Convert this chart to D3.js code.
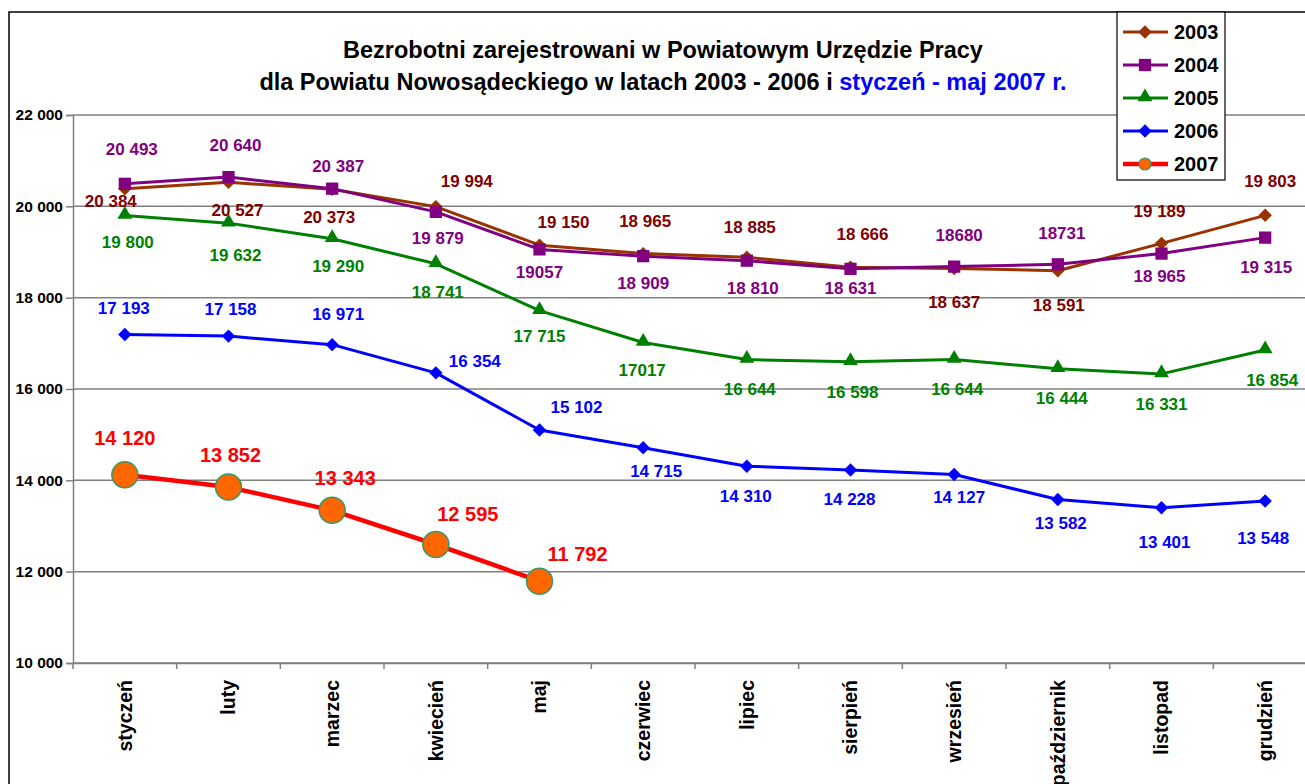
<!DOCTYPE html>
<html>
<head>
<meta charset="utf-8">
<script src="https://cdn.jsdelivr.net/npm/d3@7"></script>
<style>
  html, body { margin: 0; padding: 0; background: #fff; }
  svg { display: block; font-family: "Liberation Sans", Arial, sans-serif; }
</style>
</head>
<body>
<svg id="chart" width="1305" height="784"></svg>
<script>
// ---------- DATA ----------
const months = ["styczeń","luty","marzec","kwiecień","maj","czerwiec","lipiec","sierpień","wrzesień","październik","listopad","grudzień"];
const yTicks = [10000, 12000, 14000, 16000, 18000, 20000, 22000];
const years = ["2003","2004","2005","2006","2007"];
const v2003 = [20384, 20527, 20373, 19994, 19150, 18965, 18885, 18666, 18637, 18591, 19189, 19803];
const v2004 = [20493, 20640, 20387, 19879, 19057, 18909, 18810, 18631, 18680, 18731, 18965, 19315];
const v2005 = [19800, 19632, 19290, 18741, 17715, 17017, 16644, 16598, 16644, 16444, 16331, 16854];
const v2006 = [17193, 17158, 16971, 16354, 15102, 14715, 14310, 14228, 14127, 13582, 13401, 13548];
const v2007 = [14120, 13852, 13343, 12595, 11792];
// labels printed without thousands space in the original
const noSpace = { "2004": [4, 8, 9], "2005": [5] };
const titleLine1 = "Bezrobotni zarejestrowani w Powiatowym Urzędzie Pracy";
const titleLine2a = "dla Powiatu Nowosądeckiego w latach 2003 - 2006 i ";
const titleLine2b = "styczeń - maj 2007 r.";

// ---------- LAYOUT / STYLE ----------
const style = {
  "2003": { line: "#993300", label: "#800000", marker: "diamond", width: 3 },
  "2004": { line: "#800080", label: "#800080", marker: "square", width: 3 },
  "2005": { line: "#008000", label: "#008000", marker: "triangle", width: 3 },
  "2006": { line: "#0000FF", label: "#0000FF", marker: "diamond", width: 3 },
  "2007": { line: "#FF0000", label: "#FF0000", marker: "circle", width: 4.5 }
};
// label offsets (dx, dy) relative to each point
const labelOffsets = {
  "2003": [[-14,14],[9,29],[-3,29],[31,-24],[24,-22],[2,-31],[3,-29],[12,-32],[0,35],[1,36],[-2,-31],[5,-33]],
  "2004": [[7,-33],[7,-31],[6,-21],[2,28],[0,24],[0,28],[6,29],[0,21],[5,-30],[4,-30],[-2,24],[1,31]],
  "2005": [[3,28],[7,33],[6,29],[2,30],[0,27],[-1,29],[3,31],[2,32],[3,31],[4,31],[0,32],[7,32]],
  "2006": [[-1,-25],[2,-26],[6,-29],[39,-10],[37,-21],[13,25],[-1,31],[-1,31],[5,24],[3,25],[3,36],[-2,39]],
  "2007": [[0,-35],[2,-30],[13,-31],[32,-29],[38,-25]]
};
const seriesValues = { "2003": v2003, "2004": v2004, "2005": v2005, "2006": v2006, "2007": v2007 };

const svg = d3.select("#chart");
const plot = { left: 73, right: 1317, top: 115, bottom: 663 };

const x = d3.scaleBand().domain(months).range([plot.left, plot.right]).padding(0);
const y = d3.scaleLinear().domain([10000, 22000]).range([plot.bottom, plot.top]);

const fmtSpace = v => d3.format(",")(v).replace(/,/g, " ");

// outer frame
svg.append("rect").attr("x", 9).attr("y", 12).attr("width", 1310).attr("height", 800)
  .attr("fill", "none").attr("stroke", "#000").attr("stroke-width", 1.5);

// gridlines
svg.append("g").selectAll("line").data(yTicks).join("line")
  .attr("x1", plot.left).attr("x2", plot.right)
  .attr("y1", d => y(d)).attr("y2", d => y(d))
  .attr("stroke", "#808080").attr("stroke-width", 1.5);

// y axis
const yAxis = svg.append("g").attr("transform", `translate(${plot.left},0)`)
  .call(d3.axisLeft(y).tickValues(yTicks).tickFormat(fmtSpace).tickSize(7).tickPadding(4));
yAxis.attr("font-size", null).attr("font-family", null);
yAxis.select(".domain").attr("stroke", "#808080").attr("stroke-width", 1.5);
yAxis.selectAll(".tick line").attr("stroke", "#808080").attr("stroke-width", 1.5);
yAxis.selectAll(".tick text")
  .style("font-size", "15.5px").style("font-weight", "bold")
  .style("font-family", "'Liberation Sans', Arial, sans-serif")
  .attr("fill", "#000").attr("x", -10);

// x axis
const xAxis = svg.append("g").attr("transform", `translate(0,${plot.bottom})`)
  .call(d3.axisBottom(x).tickSize(0).tickFormat(""));
xAxis.select(".domain").attr("stroke", "#808080").attr("stroke-width", 1.5);
const bounds = months.map(m => x(m)).concat([x(months[months.length - 1]) + x.bandwidth()]);
svg.append("g").selectAll("line").data(bounds).join("line")
  .attr("x1", d => d).attr("x2", d => d)
  .attr("y1", plot.bottom).attr("y2", plot.bottom + 6)
  .attr("stroke", "#808080").attr("stroke-width", 1.5);
svg.append("g").selectAll("text").data(months).join("text")
  .attr("transform", d => `translate(${x(d) + x.bandwidth() / 2},680) rotate(-90)`)
  .attr("text-anchor", "end").attr("dy", "0.35em")
  .attr("font-size", "19.5px").attr("font-weight", "bold").attr("fill", "#000")
  .text(d => d);

// series
function marker(g, type, color, cx, cy) {
  if (type === "circle") {
    g.append("circle").attr("cx", cx).attr("cy", cy).attr("r", 13)
      .attr("fill", "#FF6600").attr("stroke", "#339966").attr("stroke-width", 1.5);
  } else if (type === "diamond") {
    g.append("path").attr("d", d3.symbol().type(d3.symbolSquare).size(90)())
      .attr("transform", `translate(${cx},${cy}) rotate(45)`).attr("fill", color);
  } else if (type === "square") {
    g.append("path").attr("d", d3.symbol().type(d3.symbolSquare).size(150)())
      .attr("transform", `translate(${cx},${cy})`).attr("fill", color);
  } else if (type === "triangle") {
    g.append("path").attr("d", d3.symbol().type(d3.symbolTriangle).size(95)())
      .attr("transform", `translate(${cx},${cy - 1})`).attr("fill", color);
  }
}

const cx = i => x(months[i]) + x.bandwidth() / 2;
const line = d3.line().x((d, i) => cx(i)).y(d => y(d));

years.forEach(yr => {
  const vals = seriesValues[yr];
  const st = style[yr];
  const g = svg.append("g");
  g.append("path").attr("d", line(vals)).attr("fill", "none")
    .attr("stroke", st.line).attr("stroke-width", st.width).attr("stroke-linejoin", "round");
  vals.forEach((v, i) => marker(g, st.marker, st.line, cx(i), y(v)));
});

// labels (drawn on top)
years.forEach(yr => {
  const vals = seriesValues[yr];
  const st = style[yr];
  const ns = noSpace[yr] || [];
  svg.append("g").selectAll("text").data(vals).join("text")
    .attr("x", (d, i) => cx(i) + labelOffsets[yr][i][0])
    .attr("y", (d, i) => y(d) + labelOffsets[yr][i][1])
    .attr("text-anchor", "middle").attr("dominant-baseline", "middle")
    .attr("font-size", yr === "2007" ? "20px" : "17px").attr("font-weight", "bold")
    .attr("fill", st.label)
    .text((d, i) => ns.includes(i) ? String(d) : fmtSpace(d));
});

// title
svg.append("text").attr("x", 663).attr("y", 58).attr("text-anchor", "middle")
  .attr("font-size", "23.5px").attr("font-weight", "bold").attr("fill", "#000").text(titleLine1);
const t2 = svg.append("text").attr("x", 663).attr("y", 90).attr("text-anchor", "middle")
  .attr("font-size", "23.5px").attr("font-weight", "bold").attr("fill", "#000");
t2.append("tspan").text(titleLine2a);
t2.append("tspan").attr("fill", "#0000FF").text(titleLine2b);

// legend
const lg = svg.append("g");
lg.append("rect").attr("x", 1117).attr("y", 12).attr("width", 108).attr("height", 168)
  .attr("fill", "#fff").attr("stroke", "#000").attr("stroke-width", 1.2);
const legendY = d3.scalePoint().domain(years).range([32, 164]);
years.forEach(yr => {
  const st = style[yr];
  const ly = legendY(yr);
  lg.append("line").attr("x1", 1123).attr("x2", 1168).attr("y1", ly).attr("y2", ly)
    .attr("stroke", st.line).attr("stroke-width", st.width);
  if (st.marker === "circle") {
    lg.append("circle").attr("cx", 1145).attr("cy", ly).attr("r", 6)
      .attr("fill", "#FF6600").attr("stroke", "#339966").attr("stroke-width", 1.2);
  } else {
    marker(lg, st.marker, st.line, 1145, ly);
  }
  lg.append("text").attr("x", 1174).attr("y", ly).attr("dy", "0.36em")
    .attr("font-size", "20px").attr("font-weight", "bold").attr("fill", "#000").text(yr);
});
</script>
</body>
</html>
